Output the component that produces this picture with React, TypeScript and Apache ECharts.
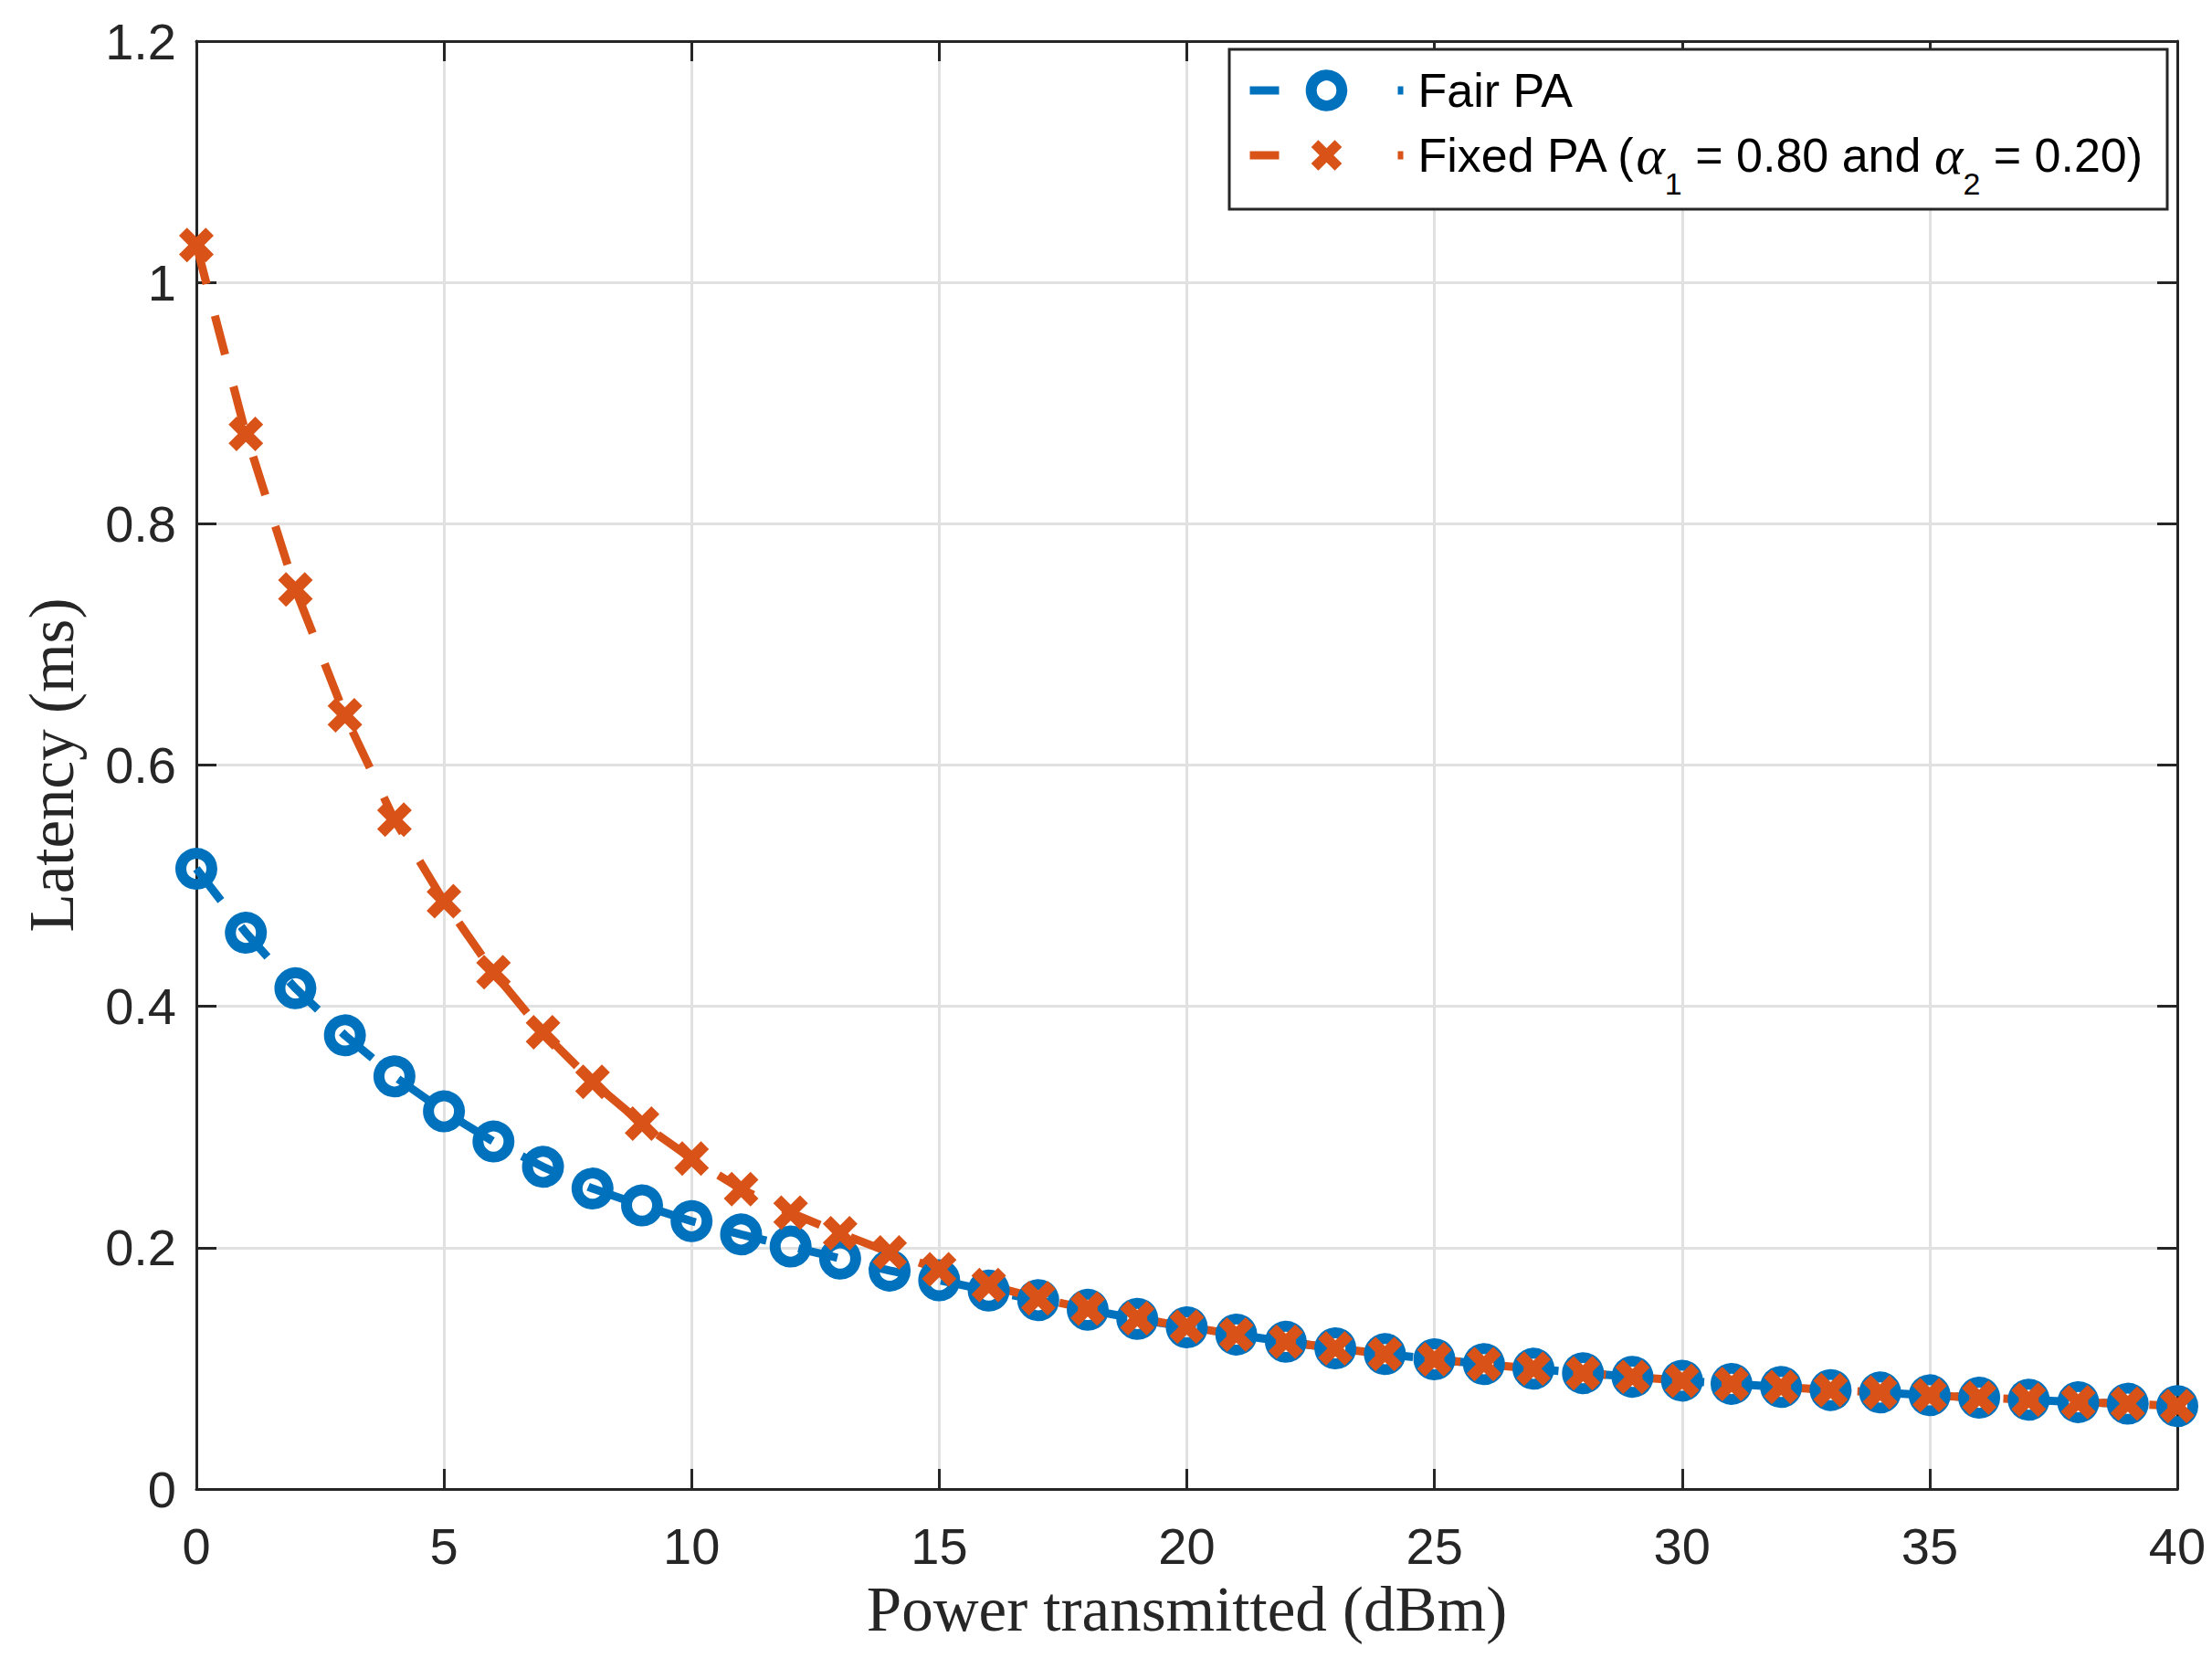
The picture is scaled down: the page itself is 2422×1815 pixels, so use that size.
import React, { useEffect, useRef } from "react";
import * as echarts from "echarts";

// Power transmitted (dBm)
const powerDbm = [
  0, 1, 2, 3, 4, 5, 6, 7, 8, 9, 10, 11, 12, 13, 14, 15, 16, 17, 18, 19, 20,
  21, 22, 23, 24, 25, 26, 27, 28, 29, 30, 31, 32, 33, 34, 35, 36, 37, 38, 39, 40,
];

// Latency (ms) - Fair PA
const fairPA = [
  0.514, 0.461, 0.415, 0.376, 0.342, 0.313, 0.288, 0.267, 0.249, 0.235, 0.222,
  0.211, 0.201, 0.191, 0.181, 0.173, 0.1645, 0.1565, 0.1485, 0.141, 0.134,
  0.128, 0.122, 0.1166, 0.1118, 0.1075, 0.1035, 0.0997, 0.096, 0.093, 0.0898,
  0.0871, 0.0846, 0.082, 0.08, 0.0777, 0.0757, 0.074, 0.072, 0.0707, 0.0687,
];

// Latency (ms) - Fixed PA
const fixedPA = [
  1.031, 0.8745, 0.7456, 0.6413, 0.5547, 0.4871, 0.4283, 0.3785, 0.3374,
  0.3029, 0.2738, 0.2486, 0.229, 0.212, 0.196, 0.182, 0.169, 0.158, 0.1495,
  0.1415, 0.1345, 0.128, 0.122, 0.1166, 0.1118, 0.1075, 0.1035, 0.0997, 0.096,
  0.093, 0.0898, 0.0871, 0.0846, 0.082, 0.08, 0.0777, 0.0757, 0.074, 0.072,
  0.0707, 0.0687,
];

const seriesNames = ["Fair PA", "Fixed PA (α1 = 0.80 and α2 = 0.20)"];
const xAxisTitle = "Power transmitted (dBm)";
const yAxisTitle = "Latency (ms)";

const BLUE = "#0072BD";
const ORANGE = "#D95319";
const AX = "#262626";
const GRIDC = "#e1e1e1";
const X_PATH =
  "path://M0,2.3 L2.3,0 L5,2.7 L7.7,0 L10,2.3 L7.3,5 L10,7.7 L7.7,10 L5,7.3 L2.3,10 L0,7.7 L2.7,5 Z";

export default function App() {
  const ref = useRef<HTMLDivElement>(null);

  useEffect(() => {
    const chart = echarts.init(ref.current!, null, { renderer: "svg" });

    const tickFont = { fontFamily: "Liberation Sans", fontSize: 56, color: AX };
    const nameFont = { fontFamily: "Liberation Serif", fontSize: 69, color: AX };
    const axLine = { show: true, onZero: false, lineStyle: { color: AX, width: 3 } };
    const axTick = { show: true, inside: true, length: 22, lineStyle: { color: AX, width: 3 } };
    const split = { show: true, lineStyle: { color: GRIDC, width: 3 } };

    const rich = {
      n: { fontFamily: "Liberation Sans", fontSize: 52, lineHeight: 56, color: "#000" },
      n0: { fontFamily: "Liberation Sans", fontSize: 52, lineHeight: 56, color: "#000", padding: [0, 0, 0, 11] },
      a: { fontFamily: "Liberation Serif", fontStyle: "italic", fontSize: 60, lineHeight: 56, color: "#000" },
      s: { fontFamily: "Liberation Sans", fontSize: 34, lineHeight: 34, color: "#000", padding: [62, 0, 0, 0] },
    };

    const legendBase = {
      orient: "vertical",
      left: 1364,
      padding: 0,
      itemWidth: 168,
      itemHeight: 42,
      selectedMode: false,
      z: 12,
      textStyle: { rich },
      lineStyle: { type: [32, 130], width: 9 },
    };

    const option = {
      animation: false,
      backgroundColor: "#ffffff",
      grid: { left: 215, right: 38, top: 45, bottom: 185, containLabel: false },
      xAxis: [
        {
          type: "value",
          min: 0,
          max: 40,
          interval: 5,
          position: "bottom",
          name: xAxisTitle,
          nameLocation: "middle",
          nameGap: 97,
          nameTextStyle: nameFont,
          axisLine: axLine,
          axisTick: axTick,
          axisLabel: { ...tickFont, margin: 34 },
          splitLine: split,
        },
        {
          type: "value",
          min: 0,
          max: 40,
          interval: 5,
          position: "top",
          axisLine: axLine,
          axisTick: axTick,
          axisLabel: { show: false },
          splitLine: { show: false },
        },
      ],
      yAxis: [
        {
          type: "value",
          min: 0,
          max: 1.2,
          interval: 0.2,
          position: "left",
          name: yAxisTitle,
          nameLocation: "middle",
          nameGap: 124,
          nameRotate: 90,
          nameTextStyle: nameFont,
          axisLine: axLine,
          axisTick: axTick,
          axisLabel: { ...tickFont, margin: 22 },
          splitLine: split,
        },
        {
          type: "value",
          min: 0,
          max: 1.2,
          interval: 0.2,
          position: "right",
          axisLine: axLine,
          axisTick: axTick,
          axisLabel: { show: false },
          splitLine: { show: false },
        },
      ],
      legend: [
        {
          ...legendBase,
          data: [seriesNames[0]],
          top: 73,
          formatter: () => "{n0|Fair PA}",
          itemStyle: { borderWidth: 12 },
        },
        {
          ...legendBase,
          data: [seriesNames[1]],
          top: 122,
          formatter: () =>
            "{n0|Fixed PA (}{a|α}{s|1}{n| = 0.80 and }{a|α}{s|2}{n| = 0.20)}",
          itemStyle: { borderWidth: 0 },
        },
      ],
      graphic: [
        {
          type: "rect",
          z: 3,
          shape: { x: 1346, y: 54, width: 1027, height: 175 },
          style: { fill: "#ffffff", stroke: AX, lineWidth: 3 },
        },
      ],
      series: [
        {
          name: seriesNames[0],
          type: "line",
          xAxisIndex: 0,
          yAxisIndex: 0,
          data: powerDbm.map((x, i) => [x, fairPA[i]]),
          symbol: "circle",
          symbolSize: 34,
          itemStyle: { color: "rgba(0,0,0,0)", borderColor: BLUE, borderWidth: 12 },
          lineStyle: { color: BLUE, width: 9, type: [44, 36] },
          emphasis: { disabled: true },
          clip: false,
          z: 2,
        },
        {
          name: seriesNames[1],
          type: "line",
          xAxisIndex: 0,
          yAxisIndex: 0,
          data: powerDbm.map((x, i) => [x, fixedPA[i]]),
          symbol: X_PATH,
          symbolSize: 38,
          itemStyle: { color: ORANGE, borderColor: ORANGE, borderWidth: 0 },
          lineStyle: { color: ORANGE, width: 9, type: [44, 36] },
          emphasis: { disabled: true },
          clip: false,
          z: 2,
        },
      ],
    };

    chart.setOption(option as any);
    return () => {
      chart.dispose();
    };
  }, []);

  return (
    <div
      ref={ref}
      style={{ position: "absolute", left: 0, top: 0, width: 2422, height: 1815 }}
    />
  );
}
